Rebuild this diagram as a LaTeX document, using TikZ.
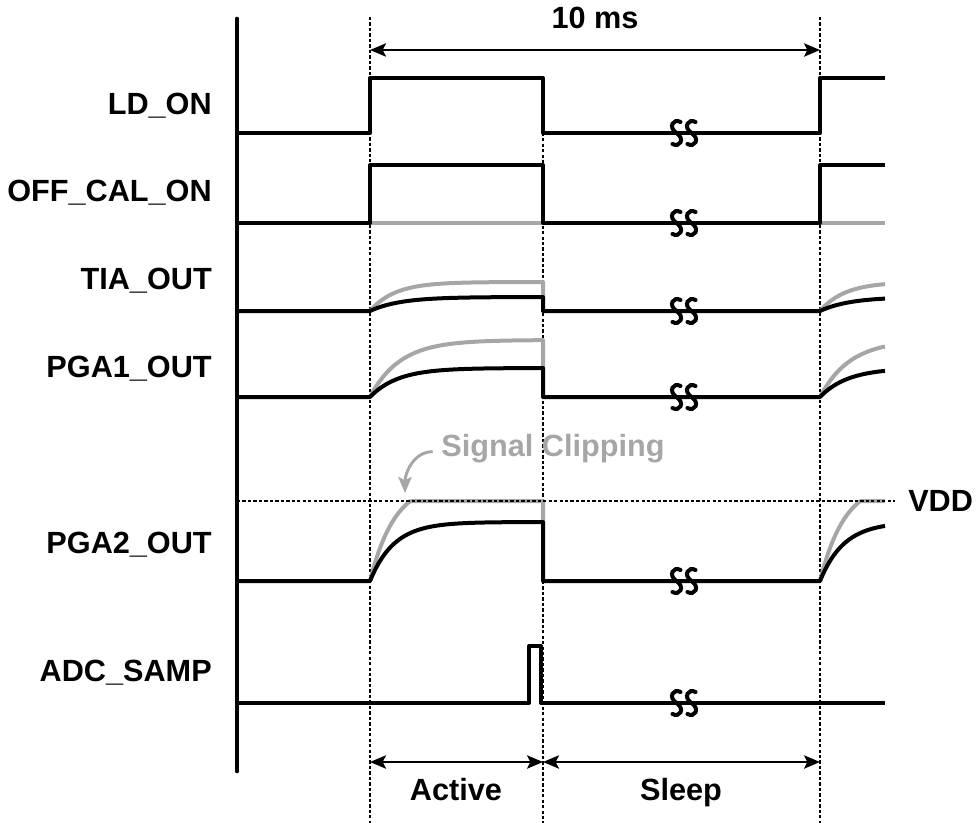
\documentclass[tikz,border=0pt]{standalone}
\usepackage{fontspec}
\setmainfont{Liberation Sans}
\usetikzlibrary{arrows.meta}

\begin{document}
\begin{tikzpicture}[x=0.75pt,y=-0.75pt,>={Stealth[length=12pt,width=10pt,inset=2.5pt]},
 font=\fontsize{23}{27}\selectfont\bfseries,
 sig/.style={line width=3pt,line join=round},
 ghost/.style={sig,black!35},
 grid/.style={line width=1.1pt,dash pattern=on 2.5pt off 1.6pt},
 dim/.style={<->,line width=1.5pt},
 lbl/.style={anchor=east,inner sep=0pt},
 brk/.pic={
  \foreach \dx in {-7.5,7.5}
   \draw[line width=3pt,line cap=round,xshift=\dx*0.75pt]
    (4,-11) .. controls (-3,-15) and (-9,-6) .. (0,0) .. controls (9,6) and (3,15) .. (-4,11);
 }]
\useasboundingbox (0,0) rectangle (980,823);

% time marks and dotted guides
\foreach \x/\y in {370/17,543/78,820/17}
  \draw[grid] (\x,\y) -- (\x,823);

% signal names
\foreach \y/\txt/\nm in {106/LD\_ON/ld,193/OFF\_CAL\_ON/cal,281/TIA\_OUT/tia,
  369/PGA1\_OUT/pgaa,545/PGA2\_OUT/pgab,673/ADC\_SAMP/adc}
  \node[lbl] (\nm) at (212,\y) {\txt};

% LD_ON and OFF_CAL_ON
\draw[sig] (237,133) -- (370,133) -- (370,78) -- (543,78) -- (543,133) -- (820,133) -- (820,78) -- (885,78);
\draw[ghost] (370,223) -- (543,223) (820,223) -- (885,223);
\draw[sig] (237,223) -- (370,223) -- (370,165) -- (543,165) -- (543,223) -- (820,223) -- (820,165) -- (885,165);

% TIA_OUT
\draw[ghost] plot[domain=370:543,samples=60] (\x,{311-29*(1-exp(-(\x-370)/25))}) -- (543,297);
\draw[ghost] plot[domain=820:885,samples=30] (\x,{311-29*(1-exp(-(\x-820)/25))});
\draw[sig] (237,311) -- plot[domain=370:543,samples=60] (\x,{311-14*(1-exp(-(\x-370)/30))})
  -- (543,311) -- (820,311) -- plot[domain=820:885,samples=30] (\x,{311-14*(1-exp(-(\x-820)/30))});

% PGA1_OUT
\draw[ghost] plot[domain=370:543,samples=60] (\x,{397-57*(1-exp(-(\x-370)/30))}) -- (543,368);
\draw[ghost] plot[domain=820:885,samples=30] (\x,{397-57*(1-exp(-(\x-820)/30))});
\draw[sig] (237,397) -- plot[domain=370:543,samples=60] (\x,{397-29*(1-exp(-(\x-370)/28))})
  -- (543,397) -- (820,397) -- plot[domain=820:885,samples=30] (\x,{397-29*(1-exp(-(\x-820)/28))});

% PGA2_OUT, clipped at VDD
\draw[ghost] plot[domain=370:543,samples=80] (\x,{max(501,581-100*(1-exp(-(\x-370)/25)))}) -- (543,523);
\draw[ghost] plot[domain=820:885,samples=40] (\x,{max(501,581-100*(1-exp(-(\x-820)/25)))});
\draw[sig] (237,581) -- plot[domain=370:543,samples=60] (\x,{581-59*(1-exp(-(\x-370)/24))})
  -- (543,581) -- (820,581) -- plot[domain=820:885,samples=30] (\x,{581-59*(1-exp(-(\x-820)/24))});
\draw[grid] (237,501) -- (895,501);
\node[anchor=west,inner sep=0pt] (vdd) at (908,501) {VDD};
\node[black!35] (clip) at (553,449) {Signal Clipping};
\coordinate (clipend) at (405,493);
\draw[->,black!35,line width=2.2pt] ([xshift=-3pt,yshift=-2pt]clip.west) to[out=180,in=90] (clipend);

% ADC_SAMP
\draw[sig] (237,703) -- (529,703) -- (529,646) -- (541,646) -- (541,703) -- (885,703);

% breaks in the sleep interval
\foreach \y in {133,223,311,397,581,703}
  \pic at (684,\y) {brk};

% axis
\draw[line width=3.5pt,line cap=round] (237,19) -- (237,771);

% durations
\coordinate (a1) at (370,50); \coordinate (a2) at (820,50);
\coordinate (b1) at (370,762); \coordinate (b2) at (543,762); \coordinate (b3) at (820,762);
\draw[dim] (a1) -- (a2);
\draw[dim] (b1) -- (b2);
\draw[dim] (b2) -- (b3);
\node[anchor=base] (period) at (595,29) {10 ms};
\node[anchor=base] (active) at (456,800) {Active};
\node[anchor=base] (sleep) at (681,800) {Sleep};
\end{tikzpicture}
\end{document}
